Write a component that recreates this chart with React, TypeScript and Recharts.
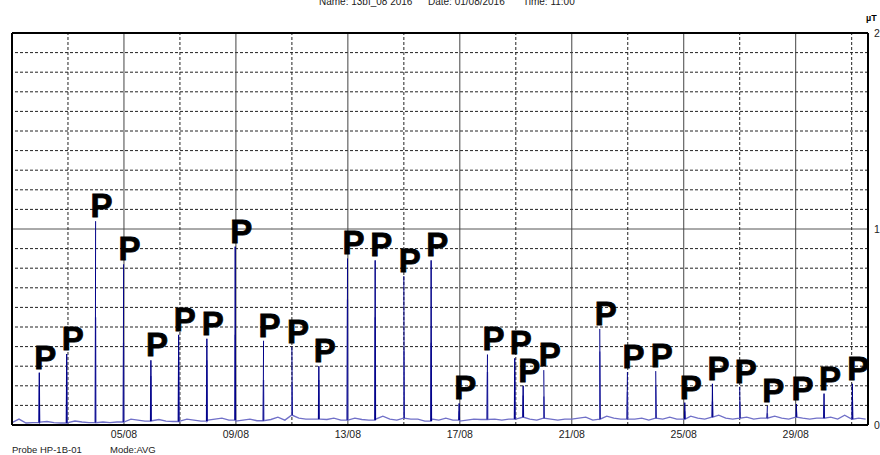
import React from 'react';
import { ComposedChart, Line, XAxis, YAxis, ReferenceLine } from 'recharts';

// hours since 01/08 00:00 of each daily peak
const peakTimes = [23.4, 46.9, 71.7, 95.7, 119.1, 142.9, 167.1, 191.4, 215.7, 240.0, 263.1, 287.7, 311.4, 336.0, 359.4, 383.4, 407.7, 431.1, 438.3, 456.0, 504.0, 527.7, 552.0, 576.9, 600.6, 624.0, 647.7, 672.6, 696.3, 720.6];
// peak values (µT)
const peakValues = [0.267, 0.362, 1.04, 0.82, 0.33, 0.46, 0.44, 0.91, 0.43, 0.40, 0.30, 0.85, 0.84, 0.76, 0.84, 0.11, 0.36, 0.34, 0.2, 0.28, 0.49, 0.27, 0.275, 0.114, 0.21, 0.195, 0.097, 0.107, 0.16, 0.21];
// lower shoulder reached by the averaged trace at each peak
const shoulderValues = [0.2, 0.27, 0.55, 0.42, 0.25, 0.34, 0.33, 0.46, 0.23, 0.21, 0.23, 0.64, 0.55, 0.38, 0.42, 0.07, 0.27, 0.26, 0.15, 0.145, 0.375, 0.17, 0.2, 0.07, 0.12, 0.12, 0.06, 0.07, 0.1, 0.13];
// background level sampled every 6 hours from 01/08 00:00
const baseline = [
  0.012, 0.03, 0.01, 0.012,
  0.015, 0.018, 0.012, 0.01,
  0.012, 0.02, 0.015, 0.012,
  0.018, 0.015, 0.012, 0.015,
  0.03, 0.03, 0.025, 0.02,
  0.022, 0.028, 0.02, 0.018,
  0.02, 0.03, 0.025, 0.02,
  0.025, 0.03, 0.035, 0.025,
  0.02, 0.025, 0.03, 0.022,
  0.03, 0.028, 0.04, 0.025,
  0.05, 0.035, 0.03, 0.03,
  0.03, 0.028, 0.035, 0.025,
  0.03, 0.035, 0.028, 0.025,
  0.03, 0.045, 0.03, 0.025,
  0.035, 0.03, 0.03, 0.02,
  0.03, 0.025, 0.035, 0.025,
  0.02, 0.025, 0.03, 0.028,
  0.035, 0.03, 0.025, 0.03,
  0.03, 0.04, 0.03, 0.025,
  0.035, 0.03, 0.025, 0.03,
  0.03, 0.035, 0.04, 0.025,
  0.03, 0.045, 0.035, 0.03,
  0.04, 0.03, 0.035, 0.025,
  0.035, 0.03, 0.04, 0.03,
  0.03, 0.045, 0.035, 0.03,
  0.04, 0.05, 0.035, 0.03,
  0.035, 0.04, 0.03, 0.035,
  0.03, 0.045, 0.035, 0.03,
  0.04, 0.035, 0.03, 0.035,
  0.035, 0.04, 0.03, 0.05,
  0.03, 0.035, 0.03,
];
const sampleStep = 6;
const xMax = 734;
const majorHours = [96, 192, 288, 384, 480, 576, 672];
const tickLabels = ['05/08', '09/08', '13/08', '17/08', '21/08', '25/08', '29/08'];
const minorHours = [48, 144, 240, 336, 432, 528, 624, 720];
const hLevels = [0.1, 0.2, 0.3, 0.4, 0.5, 0.6, 0.7, 0.8, 0.9, 1.1, 1.2, 1.3, 1.4, 1.5, 1.6, 1.7, 1.8, 1.9];
const yTicks = [0, 1, 2];

type Row = { t: number; light?: number; dark?: number; peak?: number };
const rows: Row[] = baseline.map((v, i) => ({ t: i * sampleStep, light: v }));
peakTimes.forEach((pt, k) => {
  const foot = baseline[Math.floor(pt / sampleStep)];
  rows.push({ t: pt - 0.3, light: foot, dark: foot });
  rows.push({ t: pt, light: shoulderValues[k], dark: peakValues[k], peak: peakValues[k] });
  rows.push({ t: pt + 0.3, light: foot, dark: foot });
});
rows.sort((a, b) => a.t - b.t);

const FONT = '"Liberation Sans", Arial, sans-serif';

const renderP = (props: any) => {
  const { cx, cy, payload, index } = props;
  if (!payload || payload.peak == null || cx == null || cy == null) return <g key={`p${index}`} />;
  return (
    <text
      key={`p${index}`}
      x={cx - 5}
      y={cy - 4}
      fontFamily={FONT}
      fontWeight="bold"
      fontSize={33}
      fill="#000"
      stroke="#000"
      strokeWidth={0.8}
    >
      P
    </text>
  );
};

export default function App() {
  return (
    <div style={{ position: 'absolute', left: 0, top: 0, width: 880, height: 455, background: '#fff' }}>
      <ComposedChart width={880} height={455} data={rows} margin={{ top: 33, right: 0, left: 12, bottom: 0 }}>
        <XAxis
          dataKey="t"
          type="number"
          domain={[0, xMax]}
          ticks={majorHours}
          tickFormatter={(v: number) => tickLabels[majorHours.indexOf(v)] ?? ''}
          axisLine={false}
          tickLine={false}
          tickSize={0}
          tickMargin={6}
          height={30}
          interval={0}
          tick={{ fontSize: 10.5, fill: '#222', fontFamily: FONT }}
        />
        <YAxis
          orientation="right"
          type="number"
          domain={[0, 2]}
          ticks={yTicks}
          axisLine={false}
          tickLine={false}
          tickSize={0}
          tickMargin={6}
          width={12}
          interval={0}
          tick={{ fontSize: 10.5, fill: '#222', fontFamily: FONT, textAnchor: 'start' }}
        />
        {hLevels.map((y) => (
          <ReferenceLine key={`h${y}`} y={y} stroke="#222" strokeDasharray="3 2" strokeWidth={1} />
        ))}
        <ReferenceLine y={1} stroke="#555" strokeWidth={1} />
        {minorHours.map((x) => (
          <ReferenceLine key={`vm${x}`} x={x} stroke="#222" strokeDasharray="3 2" strokeWidth={1} />
        ))}
        {majorHours.map((x) => (
          <ReferenceLine key={`vM${x}`} x={x} stroke="#444" strokeWidth={1} />
        ))}
        <Line
          dataKey="light"
          stroke="#7070c8"
          strokeWidth={1.4}
          dot={false}
          connectNulls
          isAnimationActive={false}
          type="linear"
        />
        <Line
          dataKey="dark"
          stroke="#000088"
          strokeWidth={1}
          dot={false}
          connectNulls={false}
          isAnimationActive={false}
          type="linear"
        />
        <ReferenceLine y={0} stroke="#000" strokeWidth={2} />
        <ReferenceLine y={2} stroke="#000" strokeWidth={2} />
        <ReferenceLine x={0} stroke="#000" strokeWidth={2} />
        <ReferenceLine x={xMax} stroke="#000" strokeWidth={2} />
        <Line
          dataKey="peak"
          stroke="none"
          dot={renderP}
          activeDot={false}
          connectNulls={false}
          isAnimationActive={false}
        />
      </ComposedChart>
      <svg width={880} height={455} style={{ position: 'absolute', left: 0, top: 0, pointerEvents: 'none' }}>
        <g fontFamily={FONT} fontSize={10} fill="#222">
          <text x={319} y={5}>Name: 13bf_08 2016</text>
          <text x={428} y={5}>Date: 01/08/2016</text>
          <text x={523} y={5}>Time: 11:00</text>
          <text x={12} y={453} fontSize={9.5}>Probe HP-1B-01</text>
          <text x={110} y={453} fontSize={9.5}>Mode:AVG</text>
          <text x={866} y={21} fontSize={9} fontWeight="bold" fill="#000">µT</text>
        </g>
      </svg>
    </div>
  );
}
